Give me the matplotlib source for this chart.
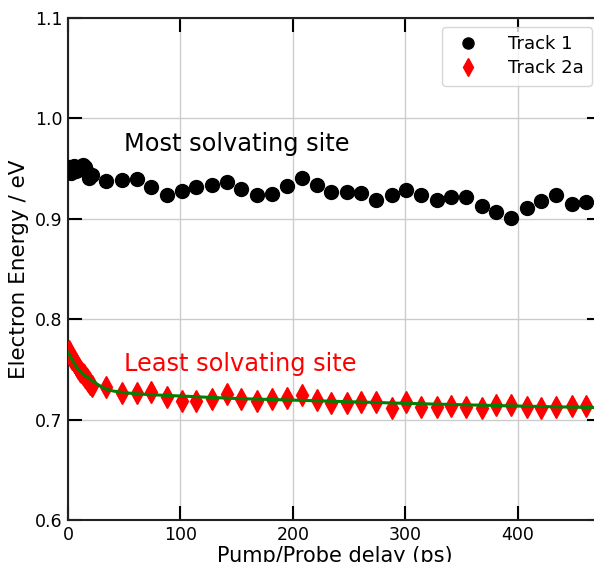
import matplotlib
matplotlib.use("Agg")
import matplotlib.pyplot as plt

# Track 1 (most solvating site)
t1_time = [1, 3, 5, 7, 9, 11, 13, 15, 17, 19, 21,
           34, 48, 61, 74, 88, 101, 114, 128, 141, 154, 168,
           181, 195, 208, 221, 234, 248, 261, 274, 288, 301, 314, 328,
           341, 354, 368, 381, 394, 408, 421, 434, 448, 461]
t1_energy = [0.952, 0.946, 0.953, 0.948, 0.950, 0.951, 0.954, 0.952, 0.947, 0.941, 0.944,
             0.938, 0.939, 0.940, 0.932, 0.924, 0.928, 0.932, 0.934, 0.937, 0.930, 0.924,
             0.925, 0.933, 0.941, 0.934, 0.927, 0.927, 0.926, 0.919, 0.924, 0.929, 0.924, 0.919,
             0.922, 0.922, 0.913, 0.907, 0.901, 0.911, 0.918, 0.924, 0.915, 0.917]

# Track 2a (least solvating site)
t2_time = [1, 2, 3, 4, 5, 6, 7, 8, 9, 10, 11, 12, 13, 14, 15, 16, 17, 18, 19, 20, 21,
           34, 48, 61, 74, 88, 101, 114, 128, 141, 154, 168,
           181, 195, 208, 221, 234, 248, 261, 274, 288, 301, 314, 328,
           341, 354, 368, 381, 394, 408, 421, 434, 448, 461]
t2_energy = [0.768, 0.765, 0.762, 0.760, 0.758, 0.757, 0.755, 0.753, 0.751, 0.750, 0.748,
             0.747, 0.745, 0.744, 0.742, 0.741, 0.740, 0.738, 0.737, 0.735, 0.733,
             0.7325, 0.7266, 0.7266, 0.7276, 0.7226, 0.719, 0.719, 0.7206, 0.7256, 0.7206, 0.719,
             0.7206, 0.7216, 0.725, 0.7193, 0.7166, 0.7166, 0.7173, 0.718, 0.7116, 0.7173, 0.7126, 0.713,
             0.714, 0.713, 0.7116, 0.715, 0.715, 0.713, 0.7116, 0.713, 0.714, 0.714]

# Fitted curve for Track 2a
fit_time = [0, 3, 6, 10, 15, 20, 25, 30, 35, 40, 50, 60, 70, 85, 100, 125, 150, 200,
            250, 300, 350, 400, 467]
fit_energy = [0.767, 0.761, 0.755, 0.749, 0.744, 0.740, 0.736, 0.7325, 0.730, 0.7285,
              0.7268, 0.7258, 0.7250, 0.7242, 0.7235, 0.7222, 0.7210, 0.7194,
              0.7178, 0.7162, 0.7148, 0.7135, 0.7120]

fig = plt.figure(figsize=(5.94, 5.62), dpi=100)
ax = fig.add_axes([68 / 594, 1 - 520 / 562, (601 - 68) / 594, (520 - 18) / 562])

ax.grid(True, color="#cccccc", linewidth=1.0, zorder=0)
ax.plot(t1_time, t1_energy, linestyle="none", marker="o", color="black",
        markersize=10, label="Track 1", zorder=3)
ax.plot(t2_time, t2_energy, linestyle="none", marker="d", color="red",
        markersize=11, label="Track 2a", zorder=3)
ax.plot(fit_time, fit_energy, color="green", linewidth=2.2, zorder=4)

ax.set_xlim(0, 474)
ax.set_ylim(0.6, 1.1)
ax.set_xticks([0, 100, 200, 300, 400])
ax.set_yticks([0.6, 0.7, 0.8, 0.9, 1.0, 1.1])
ax.tick_params(direction="in", length=10, width=1.5, labelsize=12.5,
               top=True, right=True, pad=4)
for s in ax.spines.values():
    s.set_linewidth(1.5)
    s.set_color("#222222")

ax.set_xlabel("Pump/Probe delay (ps)", fontsize=15, labelpad=2)
ax.set_ylabel("Electron Energy / eV", fontsize=15.5, labelpad=4)

ax.text(50, 0.968, "Most solvating site", fontsize=17.3, color="black", va="baseline")
ax.text(50, 0.748, "Least solvating site", fontsize=17.3, color="red", va="baseline")

ax.legend(loc="upper right", fontsize=13, numpoints=1, markerscale=0.8,
          handletextpad=1.2, borderpad=0.45, labelspacing=0.35, handlelength=2.0)

fig.savefig("out.png", dpi=100)
